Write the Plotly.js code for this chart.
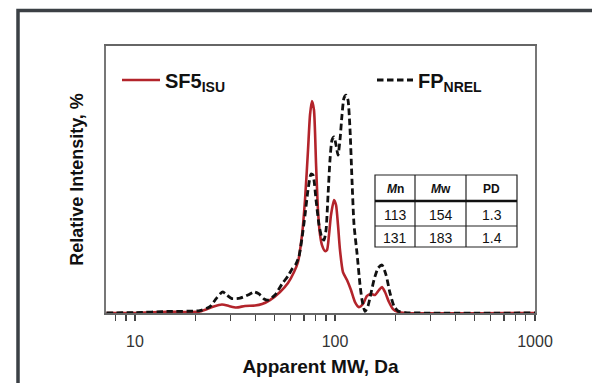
<!DOCTYPE html>
<html>
<head>
<meta charset="utf-8">
<script src="https://cdn.plot.ly/plotly-3.0.1.min.js"></script>
<style>
html,body{margin:0;padding:0;background:#fff;}
#chart{width:592px;height:383px;}
</style>
</head>
<body>
<div id="chart"></div>
<script>
// ---- data ----
const mwSF5 = [7.2,10,14.4,21.1,24.3,27.2,29.5,32,35.5,39.8,43.2,47.3,53.1,58.2,62.4,65.3,68.4,70.8,73.3,75.0,76.7,78.5,80.4,82.2,84.1,86.1,89.1,91.2,93.3,95.5,98.9,101.2,103.5,105.9,109.6,114.8,120.2,125.9,131.8,138,144.5,151.4,158.5,166,171.8,177.8,186.2,195,206.5,224,1000];
const intSF5 = [0,0,0.5,0.7,2.7,3.9,3.2,2.5,3.2,3.4,4.1,5.9,9.6,13.7,18.7,23.3,35.6,51.6,74.4,90.4,96.8,92.7,68,47,36,31,28.3,28.8,35.6,44.7,51.6,49.3,40.2,28.8,18.7,15.1,10.5,5.0,2.7,4.1,7.8,8.7,8.2,10.5,11.9,9.6,5.0,1.8,0.5,0,0];

const mwFP = [7.2,10,14.5,21.1,23.7,25.4,26.6,27.5,28.8,30.5,33.5,36.7,39.4,41.7,44.2,46.2,50.1,54.3,58.2,61,63.8,66.1,68.4,70.8,73.3,75.9,77.6,80.4,83.2,86.1,88.1,90.2,92.3,94.4,96.6,98.9,101.2,103.5,105.9,108.4,110.9,113.5,116.1,118.9,121.6,124.5,128.8,133.4,136.5,141.3,146.2,151.4,156.7,164.1,171.8,179.9,188.4,197.2,206.5,224,266,1000];
const intFP = [0,0.2,0.7,1.1,2.9,6.4,8.7,9.6,8.2,6.6,6.8,8.2,9.6,8.7,6.4,5.9,8.2,13.2,16.9,20.1,22.4,26,34.2,44.7,56.2,63.5,63,51.6,40.2,34.2,33.3,37.9,53.9,69.9,79,80.4,76.7,72.1,79,90.4,98.2,99.5,97.3,83.6,60.7,40.2,27.4,12.8,5.9,0.7,3.2,9.1,15.1,20.5,21.9,17.4,9.1,3.2,0.9,0.2,0,0];

const seriesNames = ["<b>SF5<sub>ISU</sub></b>", "<b>FP<sub>NREL</sub></b>"];
const tableHeader = ["<b><i>M</i>n</b>", "<b><i>M</i>w</b>", "<b>PD</b>"];
const tableRow1 = ["113", "154", "1.3"];
const tableRow2 = ["131", "183", "1.4"];
const xTickVals = [10, 100, 1000];
const xTickText = ["10", "100", "1000"];

// ---- geometry (pixels) ----
const W = 592, H = 383;
const L = 106, R = 535, T = 46, B = 313;
const pw = R - L, ph = B - T;
const px = x => (x - L) / pw;
const py = y => (B - y) / ph;

const FONT = "Liberation Sans, Arial, sans-serif";
const NARROW = "Liberation Sans Narrow, Arial Narrow, Liberation Sans, Arial, sans-serif";

const traces = [
  {x: mwSF5, y: intSF5, type: 'scatter', mode: 'lines', name: seriesNames[0],
   line: {color: '#b3242b', width: 2.6, shape: 'spline', smoothing: 0.6}, legend: 'legend'},
  {x: mwFP, y: intFP, type: 'scatter', mode: 'lines', name: seriesNames[1],
   line: {color: '#111', width: 2.8, dash: '6.5px,3.5px', shape: 'spline', smoothing: 0.6}, legend: 'legend2'}
];

// table geometry
const colEdges = [375, 415, 466, 517];
const rowEdges = [175, 201, 226, 247];
const shapes = [];
const annotations = [];
// outer frame
shapes.push({type: 'rect', xref: 'paper', yref: 'paper', x0: px(18), x1: px(610), y0: py(400), y1: py(10.5),
  line: {color: '#3b4045', width: 3.5}, fillcolor: 'rgba(0,0,0,0)'});
// table box
shapes.push({type: 'rect', xref: 'paper', yref: 'paper', x0: px(colEdges[0]), x1: px(colEdges[3]), y0: py(rowEdges[3]), y1: py(rowEdges[0]),
  line: {color: '#222', width: 1.2}, fillcolor: '#fff', layer: 'above'});
for (let i = 1; i < 3; i++) {
  shapes.push({type: 'line', xref: 'paper', yref: 'paper', x0: px(colEdges[i]), x1: px(colEdges[i]), y0: py(rowEdges[3]), y1: py(rowEdges[0]),
    line: {color: '#222', width: 1.2}, layer: 'above'});
}
shapes.push({type: 'line', xref: 'paper', yref: 'paper', x0: px(colEdges[0]), x1: px(colEdges[3]), y0: py(rowEdges[1]), y1: py(rowEdges[1]),
  line: {color: '#111', width: 2.4}, layer: 'above'});
shapes.push({type: 'line', xref: 'paper', yref: 'paper', x0: px(colEdges[0]), x1: px(colEdges[3]), y0: py(rowEdges[2]), y1: py(rowEdges[2]),
  line: {color: '#222', width: 1.2}, layer: 'above'});

const rows = [tableHeader, tableRow1, tableRow2];
rows.forEach((row, r) => {
  row.forEach((txt, c) => {
    annotations.push({xref: 'paper', yref: 'paper', showarrow: false,
      x: px((colEdges[c] + colEdges[c + 1]) / 2), y: py((rowEdges[r] + rowEdges[r + 1]) / 2 + 1),
      text: txt, font: {family: r === 0 ? FONT : NARROW, size: r === 0 ? 12 : 14, color: '#111'},
      xanchor: 'center', yanchor: 'middle'});
  });
});

const layout = {
  width: W, height: H,
  margin: {l: L, r: W - R, t: T, b: H - B, pad: 0},
  paper_bgcolor: '#fff', plot_bgcolor: '#fff',
  font: {family: FONT, color: '#222'},
  showlegend: true,
  legend: {x: px(117), y: py(80), xanchor: 'left', yanchor: 'middle', bgcolor: 'rgba(0,0,0,0)',
    font: {family: FONT, size: 20, color: '#111'}, itemwidth: 38, borderwidth: 0},
  legend2: {x: px(372), y: py(80), xanchor: 'left', yanchor: 'middle', bgcolor: 'rgba(0,0,0,0)',
    font: {family: FONT, size: 20, color: '#111'}, itemwidth: 36, borderwidth: 0},
  xaxis: {type: 'log', range: [0.855, 3.0], showgrid: false, zeroline: false,
    tickvals: xTickVals, ticktext: xTickText, ticks: 'outside', ticklen: 6, tickwidth: 1.3, tickcolor: '#444',
    minor: {ticks: 'outside', ticklen: 6, tickwidth: 1.3, tickcolor: '#444', dtick: 'D1', showgrid: false},
    showline: true, linecolor: '#666', linewidth: 2, mirror: true, ticklabelstandoff: 7,
    tickfont: {family: FONT, size: 16, color: '#333'},
    title: {text: '<b>Apparent MW, Da</b>', font: {family: FONT, size: 19, color: '#111'}, standoff: 10}},
  yaxis: {range: [0, 121.9], showgrid: false, zeroline: false, showticklabels: false, ticks: '',
    showline: true, linecolor: '#777', linewidth: 2, mirror: true,
    title: {text: '<b>Relative Intensity, %</b>', font: {family: FONT, size: 18, color: '#111'}, standoff: 16}},
  shapes: shapes,
  annotations: annotations
};

Plotly.newPlot('chart', traces, layout, {staticPlot: true, displayModeBar: false});
</script>
</body>
</html>
